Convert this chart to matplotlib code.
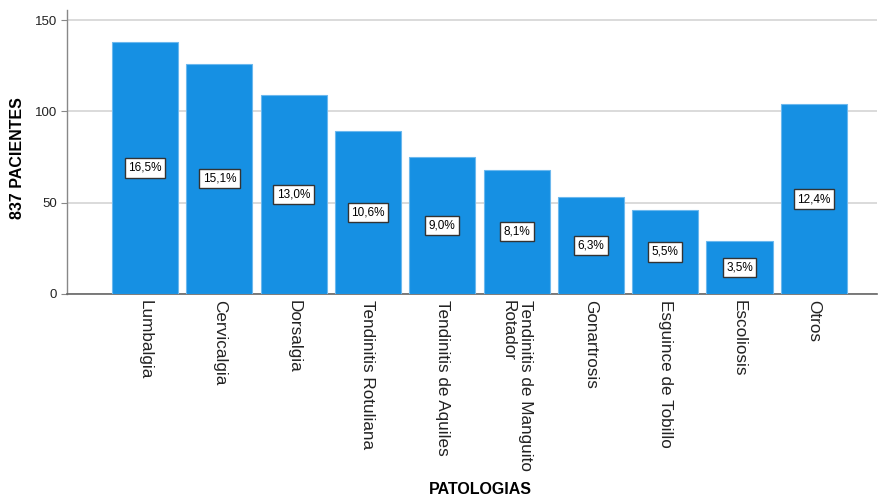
import matplotlib
matplotlib.use("Agg")
import matplotlib.pyplot as plt

categories = ["Lumbalgia", "Cervicalgia", "Dorsalgia", "Tendinitis Rotuliana",
              "Tendinitis de Aquiles", "Tendinitis de Manguito\nRotador", "Gonartrosis",
              "Esguince de Tobillo", "Escoliosis", "Otros"]
counts = [138, 126, 109, 89, 75, 68, 53, 46, 29, 104]
percent_labels = ["16,5%", "15,1%", "13,0%", "10,6%", "9,0%", "8,1%", "6,3%", "5,5%", "3,5%", "12,4%"]
y_ticks = [0, 50, 100, 150]

plt.rcParams['font.family'] = ['Liberation Sans', 'DejaVu Sans']

fig = plt.figure(figsize=(8.79, 4.99), dpi=100)
ax = fig.add_axes([67/879, 1 - 294/499, (877-67)/879, (294-10)/499])

x = list(range(len(categories)))
bars = ax.bar(x, counts, width=0.89, color="#1690e3", edgecolor="#6cb8ee", linewidth=0.8, zorder=3)

for xi, c, lab in zip(x, counts, percent_labels):
    ax.text(xi, c / 2, lab, ha="center", va="center", fontsize=8.5, color="black", zorder=4,
            bbox=dict(boxstyle="square,pad=0.3", facecolor="white", edgecolor="#333333", linewidth=1))

ax.set_xlim(-1.05, 9.85)
ax.set_ylim(0, 155.5)
ax.set_yticks(y_ticks)
ax.set_yticklabels([str(v) for v in y_ticks], fontsize=9.5, color="#222222")
ax.yaxis.grid(True, color="#d4d4d4", linewidth=1.2, zorder=0)
ax.set_axisbelow(True)

ax.set_xticks(x)
ax.set_xticklabels(categories, rotation=-90, fontsize=12.3, va="top", ha="center",
                   linespacing=1.2, multialignment="left", color="#222222")
ax.tick_params(axis="x", length=0, pad=4)
ax.tick_params(axis="y", length=4, color="#888888", pad=3)

for s in ["top", "right"]:
    ax.spines[s].set_visible(False)
ax.spines["left"].set_color("#888888")
ax.spines["bottom"].set_color("#666666")
ax.spines["left"].set_linewidth(1)
ax.spines["bottom"].set_linewidth(1.2)

fig.text(18/879, 1 - 158/499, "837 PACIENTES", rotation=90, ha="center", va="center",
         fontsize=11.5, fontweight="bold")
fig.text(480/879, 1 - 490/499, "PATOLOGIAS", ha="center", va="center",
         fontsize=11.5, fontweight="bold")

fig.savefig("out.png", dpi=100)
